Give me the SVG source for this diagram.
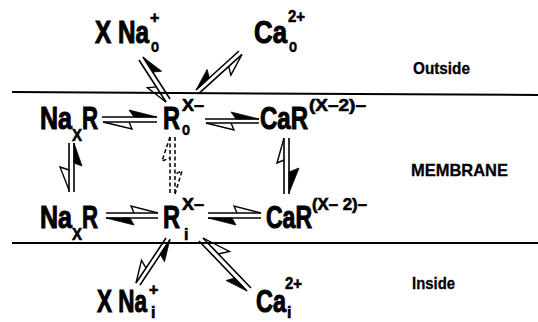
<svg xmlns="http://www.w3.org/2000/svg" width="538" height="322" viewBox="0 0 538 322">
<style>
text{font-family:"Liberation Sans",Arial,sans-serif;font-weight:bold;fill:#000;stroke:#000;stroke-width:0.6}
.b{font-size:31px;stroke-width:1}
.s{font-size:16px}
.o{font-size:18px}
.lab{font-size:17px;stroke-width:0.3}
.ln{stroke:#000;stroke-width:1.6;fill:none}
.mem{stroke:#000;stroke-width:2;fill:none}
.f{fill:#000;stroke:#000;stroke-width:0.8;stroke-linejoin:round}
.op{fill:none;stroke:#000;stroke-width:1.4;stroke-linejoin:miter}
.d{stroke:#000;stroke-width:1.5;fill:none;stroke-dasharray:4 2.5}
</style>
<rect width="538" height="322" fill="#fff"/>
<g id="membrane">
<path class="mem" d="M12,92 L538,95"/>
<path class="mem" d="M12,243 L538,243"/>
</g>
<g id="labels">
<text class="lab" x="413" y="74" textLength="57" lengthAdjust="spacingAndGlyphs">Outside</text>
<text class="lab" x="411" y="176" font-size="18" textLength="97" lengthAdjust="spacingAndGlyphs">MEMBRANE</text>
<text class="lab" x="412" y="289" textLength="43" lengthAdjust="spacingAndGlyphs">Inside</text>
</g>
<g id="Na-o">
<text class="b" x="95" y="43" textLength="54" lengthAdjust="spacingAndGlyphs">X Na</text>
<text class="o" x="151" y="52" textLength="8" lengthAdjust="spacingAndGlyphs">o</text>
<text class="s" x="150" y="23">+</text>
</g>
<g id="Ca-o">
<text class="b" x="254" y="43" textLength="33" lengthAdjust="spacingAndGlyphs">Ca</text>
<text class="o" x="289" y="52" textLength="8" lengthAdjust="spacingAndGlyphs">o</text>
<text class="s" x="288" y="22" textLength="17" lengthAdjust="spacingAndGlyphs">2+</text>
</g>
<g id="NaxR-o">
<text class="b" x="40" y="129" textLength="32" lengthAdjust="spacingAndGlyphs">Na</text>
<text class="s" x="72" y="141" textLength="10" lengthAdjust="spacingAndGlyphs">X</text>
<text class="b" x="82" y="129" textLength="16" lengthAdjust="spacingAndGlyphs">R</text>
</g>
<g id="R-o">
<text class="b" x="163" y="129" textLength="17" lengthAdjust="spacingAndGlyphs">R</text>
<text class="o" x="182" y="135" textLength="8" lengthAdjust="spacingAndGlyphs">o</text>
<text class="s" x="182" y="111" textLength="22" lengthAdjust="spacingAndGlyphs">X–</text>
</g>
<g id="CaR-o">
<text class="b" x="260" y="129" textLength="48" lengthAdjust="spacingAndGlyphs">CaR</text>
<text class="s" x="309" y="111" textLength="57" lengthAdjust="spacingAndGlyphs">(X–2)–</text>
</g>
<g id="NaxR-i">
<text class="b" x="40" y="228" textLength="32" lengthAdjust="spacingAndGlyphs">Na</text>
<text class="s" x="72" y="240" textLength="10" lengthAdjust="spacingAndGlyphs">X</text>
<text class="b" x="82" y="228" textLength="16" lengthAdjust="spacingAndGlyphs">R</text>
</g>
<g id="R-i">
<text class="b" x="163" y="228" textLength="17" lengthAdjust="spacingAndGlyphs">R</text>
<text class="s" x="184" y="240">i</text>
<text class="s" x="182" y="210" textLength="22" lengthAdjust="spacingAndGlyphs">X–</text>
</g>
<g id="CaR-i">
<text class="b" x="266" y="228" textLength="46" lengthAdjust="spacingAndGlyphs">CaR</text>
<text class="s" x="312" y="210" textLength="55" lengthAdjust="spacingAndGlyphs">(X– 2)–</text>
</g>
<g id="Na-i">
<text class="b" x="97" y="312" textLength="50" lengthAdjust="spacingAndGlyphs">X Na</text>
<text class="s" x="151" y="318" font-size="17">i</text>
<text class="s" x="149" y="295">+</text>
</g>
<g id="Ca-i">
<text class="b" x="256" y="312" textLength="30" lengthAdjust="spacingAndGlyphs">Ca</text>
<text class="s" x="287" y="318" font-size="17">i</text>
<text class="s" x="285" y="289" textLength="17" lengthAdjust="spacingAndGlyphs">2+</text>
</g>
<g id="connectors">
<!-- row 1 left -->
<path class="ln" d="M102,117 H157 M103,122 H157"/>
<polygon class="f" points="157,117 129,110 134,117"/>
<path class="op" d="M103,122 L132,129 L129,122"/>
<!-- row 1 right -->
<path class="ln" d="M205,119 H259 M206,123 H259"/>
<polygon class="f" points="259,119 231,112 236,119"/>
<path class="op" d="M206,123 L234,130 L231,123"/>
<!-- row 2 left -->
<path class="ln" d="M106,213 H158 M106,218 H158"/>
<path class="op" d="M158,213 L131,206 L134,213"/>
<polygon class="f" points="106,218 134,225 130,218"/>
<!-- row 2 right -->
<path class="ln" d="M208,213 H261 M208,218 H261"/>
<path class="op" d="M261,213 L234,206 L237,213"/>
<polygon class="f" points="208,218 236,225 232,218"/>
<!-- left vertical -->
<path class="ln" d="M69,143 V192 M74,143 V192"/>
<polygon class="f" points="74,143 82,166 74,163"/>
<path class="op" d="M69,190 L60,167 L69,170"/>
<!-- middle dashed vertical -->
<path class="d" d="M170,137 V194 M175,137 V194"/>
<path class="d" d="M170,137 L162,161 L170,158"/>
<path class="d" d="M175,194 L182,171 L175,174"/>
<!-- right vertical -->
<path class="ln" d="M284,138 V194 M289,138 V194"/>
<path class="op" d="M284,138 L277,163 L284,160"/>
<polygon class="f" points="289,193 299,168 289,172"/>
<!-- Na_o <-> R_o -->
<path class="ln" d="M139,60 L166,102 M143,57 L170,99"/>
<polygon class="f" points="143,57 161.6,71.2 152.7,72.1"/>
<path class="op" d="M166,102 L147.4,87.8 L156.3,86.9"/>
<!-- Ca_o <-> R_o -->
<path class="ln" d="M239,51 L196,90 M242,54.4 L199,93.4"/>
<polygon class="f" points="196,90 207.1,69.4 209.4,78"/>
<path class="op" d="M242,54.4 L230.9,75 L228.6,66.4"/>
<!-- R_i <-> Na_i -->
<path class="ln" d="M166,238 L136,283 M170,240 L140,285"/>
<polygon class="f" points="170,239 164.5,261.7 160,254"/>
<path class="op" d="M136,283 L141.5,260.3 L146,268"/>
<!-- R_i <-> Ca_i -->
<path class="ln" d="M199,241 L247,291 M203,238 L251,288"/>
<path class="op" d="M203,238 L229.5,251.5 L218,254"/>
<polygon class="f" points="247,291 226.1,280.5 234.7,277.9"/>
</g>
</svg>
